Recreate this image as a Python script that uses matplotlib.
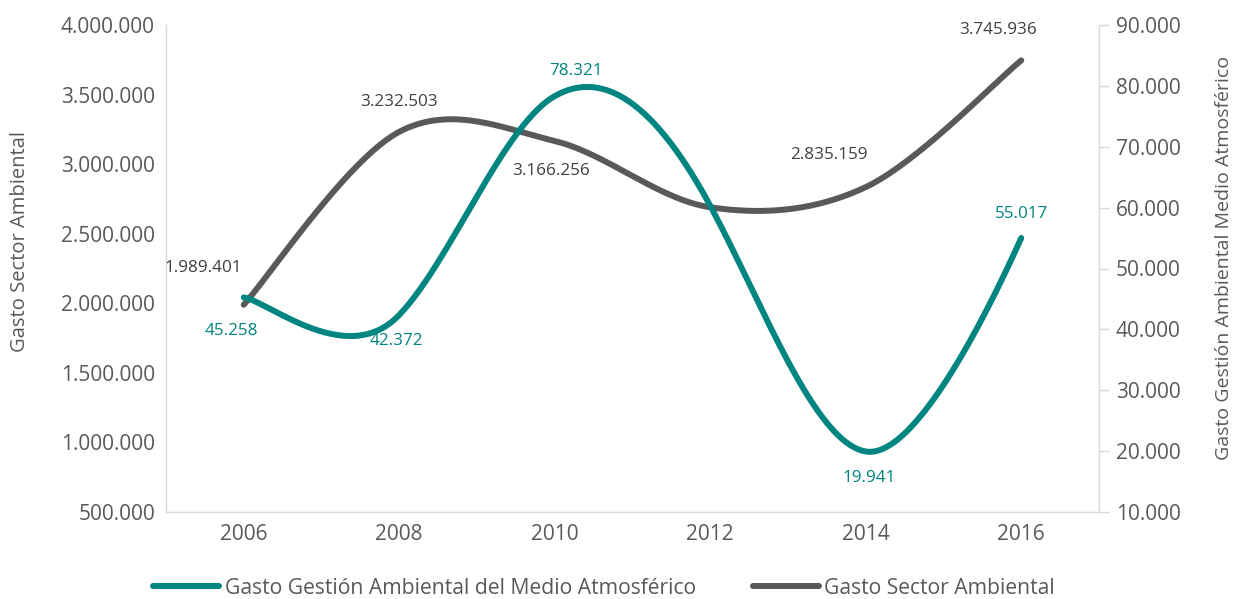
import matplotlib
matplotlib.use('Agg')
import matplotlib.pyplot as plt
import numpy as np

plt.rcParams['font.family'] = ['Open Sans', 'DejaVu Sans']

# Data
years = ['2006', '2008', '2010', '2012', '2014', '2016']
gasto_sector = [1989401, 3232503, 3166256, 2690000, 2835159, 3745936]
gasto_atmos = [45258, 42372, 78321, 60300, 19941, 55017]
# which points carry a data label (2012 has none in the original)
label_sector = [True, True, True, False, True, True]
label_atmos = [True, True, True, False, True, True]

TEAL = '#008580'
GRAY = '#595959'
AXIS = '#d9d9d9'
TXT = '#595959'


def fmt_dots(v):
    return f'{int(round(v)):,}'.replace(',', '.')


def smooth(xs, ys, tension=1 / 6, n=60):
    """Excel-like smoothed line: cubic Bezier segments with neighbour tangents
    (x uses the usual 1/6, y uses the given tension)."""
    px = np.concatenate([[xs[0]], np.asarray(xs, float), [xs[-1]]])
    py = np.concatenate([[ys[0]], np.asarray(ys, float), [ys[-1]]])
    out_x, out_y = [], []
    t = np.linspace(0, 1, n)
    b0, b1, b2, b3 = (1 - t) ** 3, 3 * (1 - t) ** 2 * t, 3 * (1 - t) * t ** 2, t ** 3
    for i in range(1, len(px) - 2):
        x0, x3 = px[i], px[i + 1]
        y0, y3 = py[i], py[i + 1]
        cx1 = x0 + (px[i + 1] - px[i - 1]) / 6
        cx2 = x3 - (px[i + 2] - px[i]) / 6
        cy1 = y0 + (py[i + 1] - py[i - 1]) * tension
        cy2 = y3 - (py[i + 2] - py[i]) * tension
        out_x.extend(b0 * x0 + b1 * cx1 + b2 * cx2 + b3 * x3)
        out_y.extend(b0 * y0 + b1 * cy1 + b2 * cy2 + b3 * y3)
    return np.array(out_x), np.array(out_y)


fig = plt.figure(figsize=(12.34, 5.99), dpi=100)
ax = fig.add_axes([166 / 1234, 1 - 512 / 599, 933 / 1234, 487 / 599])
ax2 = ax.twinx()

x = np.arange(len(years))

sx, sy = smooth(x, gasto_sector, tension=1 / 6)
ax.plot(sx, sy, color=GRAY, lw=4.3, solid_capstyle='round', zorder=3)
tx, ty = smooth(x, gasto_atmos, tension=0.27)
ax2.plot(tx, ty, color=TEAL, lw=4.3, solid_capstyle='round', zorder=3)

ax.set_xlim(-0.5, len(years) - 0.5)
ax.set_ylim(500000, 4000000)
ax.set_yticks(np.arange(500000, 4000001, 500000))
ax.yaxis.set_major_formatter(matplotlib.ticker.FuncFormatter(lambda v, p: fmt_dots(v)))
ax2.set_ylim(10000, 90000)
ax2.set_yticks(np.arange(10000, 90001, 10000))
ax2.yaxis.set_major_formatter(matplotlib.ticker.FuncFormatter(lambda v, p: fmt_dots(v)))
ax.set_xticks(x)
ax.set_xticklabels(years)

for a in (ax, ax2):
    for s in a.spines.values():
        s.set_visible(False)
ax.spines['left'].set_visible(True)
ax.spines['bottom'].set_visible(True)
ax2.spines['right'].set_visible(True)
for s in (ax.spines['left'], ax.spines['bottom'], ax2.spines['right']):
    s.set_color(AXIS)
    s.set_linewidth(1.0)

ax.tick_params(axis='y', length=0, pad=8, labelsize=15, labelcolor=TXT)
ax.tick_params(axis='x', length=0, pad=9, labelsize=15, labelcolor=TXT)
ax2.tick_params(axis='y', length=7, color=AXIS, width=1, pad=5, labelsize=15, labelcolor=TXT)

ax.set_ylabel('Gasto Sector Ambiental', fontsize=14.5, color=TXT,
              rotation=90, ha='center', va='center')
ax2.set_ylabel('Gasto Gestión Ambiental Medio Atmosférico', fontsize=14, color=TXT,
               rotation=90, ha='center', va='center')
ax.yaxis.set_label_coords(-0.156, 0.556)
ax2.yaxis.set_label_coords(1.134, 0.522)

# data label offsets in pixels (dx, dy up)
off_sector = [(-40, 37), (0, 30), (-4, -30), (0, 0), (-37, 32), (-23, 30)]
off_atmos = [(-12, -34), (-3, -26), (21, 25), (0, 0), (3, -27), (0, 24)]
for i, v in enumerate(gasto_sector):
    if label_sector[i]:
        dx, dy = off_sector[i]
        ax.annotate(fmt_dots(v), (x[i], v), xytext=(dx * 0.72, dy * 0.72),
                    textcoords='offset points', ha='center', va='center',
                    fontsize=12.3, color='#404040', zorder=5)
for i, v in enumerate(gasto_atmos):
    if label_atmos[i]:
        dx, dy = off_atmos[i]
        ax2.annotate(fmt_dots(v), (x[i], v), xytext=(dx * 0.72, dy * 0.72),
                     textcoords='offset points', ha='center', va='center',
                     fontsize=12.3, color=TEAL, zorder=5)

handles = [plt.Line2D([], [], color=TEAL, lw=4.3, solid_capstyle='round'),
           plt.Line2D([], [], color=GRAY, lw=4.3, solid_capstyle='round')]
fig.legend(handles, ['Gasto Gestión Ambiental del Medio Atmosférico', 'Gasto Sector Ambiental'],
           loc='center', bbox_to_anchor=(604 / 1234, 1 - 588 / 599), ncol=2, frameon=False,
           fontsize=15.2, labelcolor=TXT, handlelength=3.15, handletextpad=0.25,
           columnspacing=2.7)

fig.savefig('out.png', dpi=100, facecolor='white')
